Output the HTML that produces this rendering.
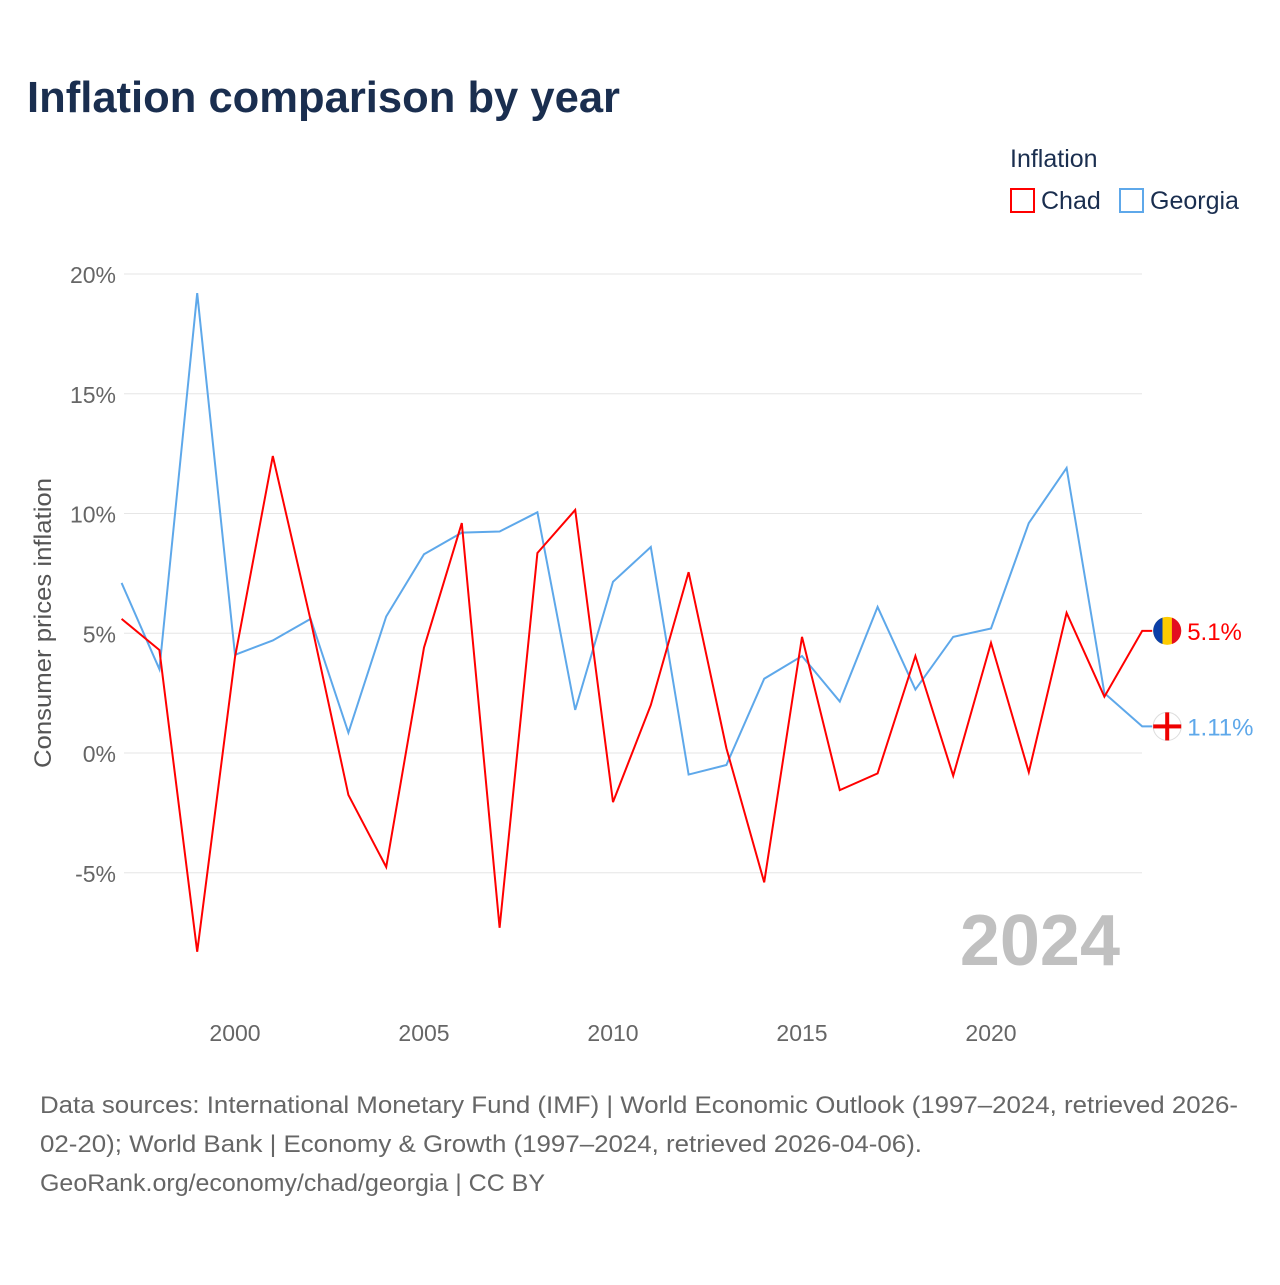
<!DOCTYPE html>
<html><head><meta charset="utf-8"><style>
body{margin:0;background:#fff;font-family:"Liberation Sans",sans-serif;}
</style></head><body>
<svg width="1280" height="1280" viewBox="0 0 1280 1280" xmlns="http://www.w3.org/2000/svg" font-family="Liberation Sans, sans-serif">
<rect width="1280" height="1280" fill="#fff"/>
<text x="27" y="112" font-size="44" font-weight="bold" fill="#1a2e4f" textLength="593" lengthAdjust="spacingAndGlyphs">Inflation comparison by year</text>
<text x="1010" y="167" font-size="25" fill="#1a2e4f">Inflation</text>
<g><rect x="1011" y="189" width="23" height="23" fill="none" stroke="#f00" stroke-width="2"/><text x="1041" y="209" font-size="25" fill="#1a2e4f">Chad</text></g>
<g><rect x="1120" y="189" width="23" height="23" fill="none" stroke="#5ea8ea" stroke-width="2"/><text x="1150" y="209" font-size="25" fill="#1a2e4f">Georgia</text></g>
<g id="grid"></g><g id="yt"></g><g id="xt"></g><g id="lines"></g>
<text x="1120" y="965" font-size="72" font-weight="bold" fill="#c0c0c0" text-anchor="end">2024</text>
<text transform="translate(51,623) rotate(-90)" font-size="24" fill="#555" text-anchor="middle" textLength="290" lengthAdjust="spacingAndGlyphs">Consumer prices inflation</text>
<g font-size="24" fill="#666">
<text x="40" y="1113" textLength="1198" lengthAdjust="spacingAndGlyphs">Data sources: International Monetary Fund (IMF) | World Economic Outlook (1997–2024, retrieved 2026-</text>
<text x="40" y="1152" textLength="882" lengthAdjust="spacingAndGlyphs">02-20); World Bank | Economy &amp; Growth (1997–2024, retrieved 2026-04-06).</text>
<text x="40" y="1191" textLength="505" lengthAdjust="spacingAndGlyphs">GeoRank.org/economy/chad/georgia | CC BY</text></g>
</svg>
<script>
const years=[1997,1998,1999,2000,2001,2002,2003,2004,2005,2006,2007,2008,2009,2010,2011,2012,2013,2014,2015,2016,2017,2018,2019,2020,2021,2022,2023,2024];
const chad=[5.6,4.3,-8.3,4.0,12.4,5.55,-1.75,-4.76,4.4,9.6,-7.3,8.35,10.15,-2.05,2.0,7.55,0.2,-5.4,4.85,-1.55,-0.85,4.05,-0.95,4.6,-0.8,5.85,2.35,5.1];
const georgia=[7.1,3.5,19.2,4.1,4.7,5.6,0.85,5.7,8.3,9.2,9.25,10.05,1.8,7.15,8.6,-0.9,-0.5,3.1,4.05,2.15,6.1,2.65,4.85,5.2,9.6,11.9,2.5,1.11];
const yTicks=[-5,0,5,10,15,20];
const xTicks=[2000,2005,2010,2015,2020];
const NS="http://www.w3.org/2000/svg";
const X=y=>121.6+(y-1997)*37.8;
const Y=v=>753-v*23.95;
function mk(t,a,p){const e=document.createElementNS(NS,t);for(const k in a)e.setAttribute(k,a[k]);document.getElementById(p).appendChild(e);return e;}
yTicks.forEach(v=>{
 const l=mk('line',{x1:124,x2:1142,y1:Y(v),y2:Y(v),stroke:'#e6e6e6','stroke-width':1},'grid');
 
 
 const t=mk('text',{x:116,y:Y(v)+9,'font-size':23,fill:'#666','text-anchor':'end'},'yt');
 t.textContent=v+'%';
 
 
});
xTicks.forEach(v=>{
 const t=mk('text',{x:X(v),y:1041,'font-size':23,fill:'#666','text-anchor':'middle'},'xt');
 t.textContent=v;
 
 
});
function series(d,c,name,label){
 let p=d.map((v,i)=>X(years[i])+','+Y(v)).join(' ');
 const last=d[d.length-1];
 p+=' '+(X(2024)+10)+','+Y(last);
 const l=mk('polyline',{points:p,fill:'none',stroke:c,'stroke-width':2,'stroke-linejoin':'miter'},'lines');
 
 
 const cx=X(2024)+25;
 const ci=mk('circle',{cx:cx,cy:Y(last),r:14,fill:name==='chad'?'#fecb00':'#fff',stroke:name==='chad'?'none':'#ddd'},'lines');
 
 
 if(name==='chad'){
  mk('path',{d:`M${cx-4.7},${Y(last)-13.2} A14,14 0 0 0 ${cx-4.7},${Y(last)+13.2} Z`,fill:'#0b3fa8'},'lines');
  mk('path',{d:`M${cx+4.7},${Y(last)-13.2} A14,14 0 0 1 ${cx+4.7},${Y(last)+13.2} Z`,fill:'#e30e20'},'lines');
 }else{
  mk('rect',{x:cx-14,y:Y(last)-2,width:28,height:4,fill:'#e00'},'lines');
  mk('rect',{x:cx-2,y:Y(last)-14,width:4,height:28,fill:'#e00'},'lines');
 }
 const t=mk('text',{x:cx+20,y:Y(last)+9,'font-size':24,fill:c},'lines');
 t.textContent=label;
 
 
}
series(georgia,'#5ea8ea','georgia','1.11%');
series(chad,'#f00','chad','5.1%');
</script>
</body></html>
